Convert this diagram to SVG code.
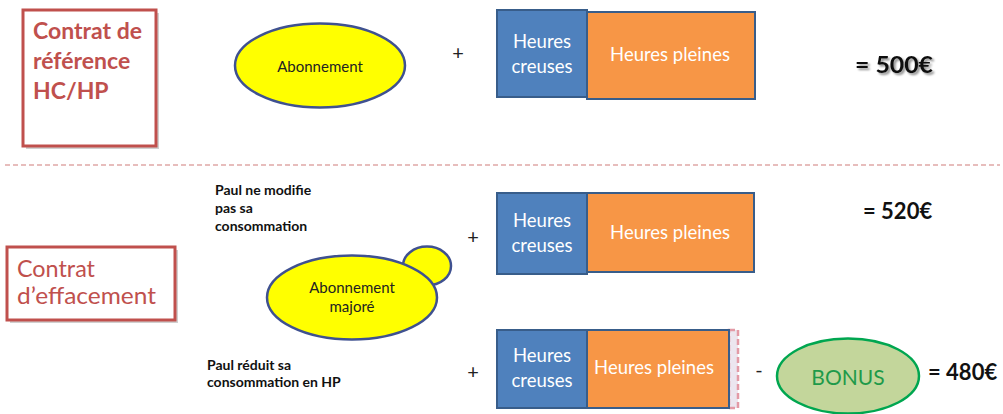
<svg xmlns="http://www.w3.org/2000/svg" width="1003" height="414" viewBox="0 0 1003 414">
<style>
text{font-family:Lato,"Liberation Sans",Arial,sans-serif}
.red{fill:#c0504d;font-weight:bold}
.box{fill:#fff;stroke:#c0504d;stroke-width:3}
.sh{fill:#b0b0b0;opacity:.6}
.ell{fill:#ffff00;stroke:#3f5190;stroke-width:2.5}
.hc{fill:#4f81bd;stroke:#385d8a;stroke-width:2}
.hp{fill:#f79646;stroke:#385d8a;stroke-width:2}
.wt{fill:#fff;font-size:18.5px;text-anchor:middle}
.bt{fill:#111;font-size:14px;font-weight:bold}
.op{fill:#222;font-size:20px;text-anchor:middle}
.eq{fill:#111;font-weight:bold;font-size:22px}
.ab{font-size:15px;text-anchor:middle;fill:#222}
</style>
<defs>
<filter id="ts" x="-10%" y="-30%" width="130%" height="170%"><feGaussianBlur in="SourceAlpha" stdDeviation="1"/><feOffset dx="1.5" dy="1.5" result="b"/><feFlood flood-color="#000" flood-opacity="0.45"/><feComposite in2="b" operator="in"/><feMerge><feMergeNode/><feMergeNode in="SourceGraphic"/></feMerge></filter>
</defs>
<rect width="1003" height="414" fill="#fff"/>
<g id="connectors">
<line x1="5" y1="165" x2="1000" y2="165" stroke="#e0a8a6" stroke-width="1.5" stroke-dasharray="5,3"/>
</g>
<g id="contrat-reference">
<rect class="sh" x="26" y="13" width="133" height="136"/>
<rect class="box" x="23" y="10" width="133" height="136"/>
<text class="red" font-size="23" x="33" y="39">Contrat de</text>
<text class="red" font-size="23" x="33" y="69">référence</text>
<text class="red" font-size="23" x="33" y="99">HC/HP</text>
</g>
<g id="abonnement">
<ellipse class="ell" cx="320" cy="65.5" rx="85" ry="42"/>
<text class="ab" x="320" y="72">Abonnement</text>
</g>
<text class="op" x="458" y="60">+</text>
<g id="heures-1">
<rect class="hc" x="497" y="10" width="90" height="87"/>
<rect class="hp" x="587" y="12" width="168" height="87"/>
<text class="wt" x="542" y="48">Heures</text>
<text class="wt" x="542" y="73">creuses</text>
<text class="wt" x="670" y="61">Heures pleines</text>
</g>
<text class="eq" x="855" y="73" font-size="24" textLength="78" lengthAdjust="spacingAndGlyphs" filter="url(#ts)">= 500€</text>

<g id="contrat-effacement">
<rect class="sh" x="10" y="250" width="168" height="73"/>
<rect class="box" x="7" y="247" width="168" height="73"/>
<text class="red" font-size="23" x="17" y="277" textLength="78" lengthAdjust="spacingAndGlyphs" style="font-weight:normal">Contrat</text>
<text class="red" font-size="23" x="17" y="304" textLength="139" lengthAdjust="spacingAndGlyphs" style="font-weight:normal">d’effacement</text>
</g>
<g id="texte-paul-1">
<text class="bt" x="215" y="195">Paul ne modifie</text>
<text class="bt" x="215" y="213">pas sa</text>
<text class="bt" x="215" y="231">consommation</text>
</g>
<g id="abonnement-majore">
<ellipse class="ell" cx="427" cy="266" rx="24" ry="19.5"/>
<ellipse class="ell" cx="352" cy="297.5" rx="85" ry="42"/>
<text class="ab" x="352" y="293">Abonnement</text>
<text class="ab" x="352" y="312">majoré</text>
</g>
<text class="op" x="473" y="244">+</text>
<g id="heures-2">
<rect class="hc" x="497" y="193" width="90" height="81"/>
<rect class="hp" x="587" y="193" width="167" height="79"/>
<text class="wt" x="542" y="227">Heures</text>
<text class="wt" x="542" y="252">creuses</text>
<text class="wt" x="670" y="239">Heures pleines</text>
</g>
<text class="eq" x="863" y="219">= 520€</text>

<g id="texte-paul-2">
<text class="bt" x="207" y="370">Paul réduit sa</text>
<text class="bt" x="207" y="387">consommation en HP</text>
</g>
<text class="op" x="473" y="379">+</text>
<g id="heures-3">
<rect x="729" y="330" width="9" height="78" fill="#ece6ef" stroke="#e39aa6" stroke-width="2.5" stroke-dasharray="6,3"/>
<rect class="hc" x="497" y="330" width="90" height="78"/>
<rect class="hp" x="587" y="330" width="142" height="78"/>
<text class="wt" x="542" y="362">Heures</text>
<text class="wt" x="542" y="387">creuses</text>
<text class="wt" x="654" y="374">Heures pleines</text>
</g>
<text class="op" x="759" y="377">-</text>
<g id="bonus">
<ellipse cx="848" cy="376" rx="71" ry="37.5" fill="#c3d69b" stroke="#00a650" stroke-width="2.5"/>
<text x="848" y="385" font-size="21" text-anchor="middle" fill="#1f9a4a">BONUS</text>
</g>
<text class="eq" x="928" y="380">= 480€</text>
</svg>
